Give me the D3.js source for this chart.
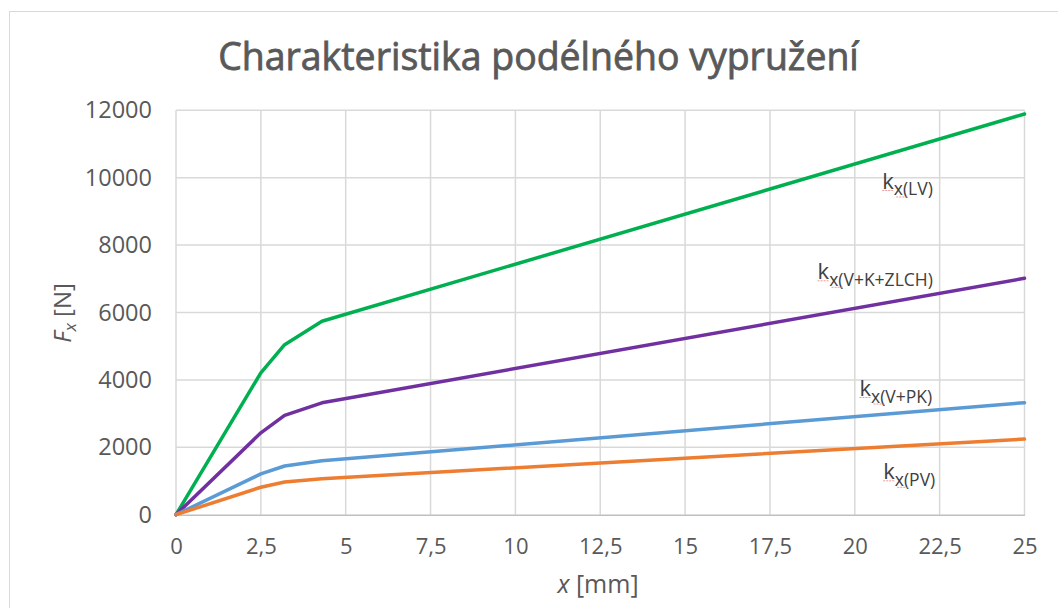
<!DOCTYPE html>
<html><head><meta charset="utf-8">
<script src="https://cdn.jsdelivr.net/npm/d3@7"></script>
<style>
html,body{margin:0;padding:0;background:#fff;}
svg{display:block;font-family:"Open Sans",sans-serif;}
</style></head>
<body>
<svg id="chart" width="1058" height="608"></svg>
<script>
// ---- data ----
const title = "Charakteristika podélného vypružení";
const xValues = [0, 2.5, 3.2, 4.3, 25];
const kLV   = [0, 4210, 5045, 5740, 11890];
const kVKZ  = [0, 2430, 2950, 3320, 7015];
const kVPK  = [0, 1210, 1445, 1600, 3325];
const kPV   = [0, 815, 970, 1070, 2245];
const seriesNames = ["x(LV)", "x(V+K+ZLCH)", "x(V+PK)", "x(PV)"];
const xTicks = [0, 2.5, 5, 7.5, 10, 12.5, 15, 17.5, 20, 22.5, 25];
const yTicks = [0, 2000, 4000, 6000, 8000, 10000, 12000];
// label anchor points in data units (mm, N)
const labelX = [22.3, 22.3, 22.28, 22.37];
const labelY = [9665, 6985, 3522, 1050];

const colors = ["#00b050", "#7030a0", "#5b9bd5", "#ed7d31"];
const seriesVals = [kLV, kVKZ, kVPK, kPV];

const svg = d3.select("#chart");
const x = d3.scaleLinear().domain([0, 25]).range([176, 1024.5]);
const y = d3.scaleLinear().domain([0, 12000]).range([514.7, 110.3]);

// frame
svg.append("rect").attr("x", 9.5).attr("y", 11.5).attr("width", 1200).attr("height", 800)
  .attr("fill", "#fff").attr("stroke", "#d9d9d9").attr("stroke-width", 1);

// title
const tt = svg.append("text").attr("x", 538.5).attr("y", 70).attr("text-anchor", "middle")
  .attr("font-size", 36).attr("fill", "#595959")
  .attr("stroke", "#595959").attr("stroke-width", 0.8).text(title);
// fit width to reference
const tw = tt.node().getComputedTextLength();
if (tw > 0) tt.attr("font-size", 36 * 641 / tw);

// gridlines
const grid = svg.append("g");
grid.selectAll("line.h").data(yTicks.filter(d => d > 0)).join("line")
  .attr("x1", x(0)).attr("x2", x(25)).attr("y1", d => y(d)).attr("y2", d => y(d))
  .attr("stroke", "#d9d9d9").attr("stroke-width", 1.5);
grid.selectAll("line.v").data(xTicks).join("line")
  .attr("x1", d => x(d)).attr("x2", d => x(d)).attr("y1", y(0)).attr("y2", y(12000))
  .attr("stroke", "#d9d9d9").attr("stroke-width", 1.5);

// x axis
const fmtX = d => String(d).replace(".", ",");
const xAxis = svg.append("g").attr("transform", `translate(0,${y(0)})`)
  .call(d3.axisBottom(x).tickValues(xTicks).tickFormat(fmtX).tickSize(0).tickPadding(24));
xAxis.select(".domain").attr("stroke", "#bfbfbf").attr("stroke-width", 1.5);
xAxis.selectAll("text").attr("font-size", 22).attr("fill", "#595959")
  .attr("font-family", "'Open Sans',sans-serif");

// y axis
const yAxis = svg.append("g").attr("transform", `translate(152,0)`)
  .call(d3.axisLeft(y).tickValues(yTicks).tickFormat(d3.format("d")).tickSize(0).tickPadding(0));
yAxis.select(".domain").remove();
yAxis.selectAll("text").attr("font-size", 23.5).attr("fill", "#595959")
  .attr("font-family", "'Open Sans',sans-serif");

// lines
const line = d3.line().x((d, i) => x(xValues[i])).y(d => y(d));
svg.append("g").selectAll("path").data(seriesVals).join("path")
  .attr("d", d => line(d)).attr("fill", "none")
  .attr("stroke", (d, i) => colors[i]).attr("stroke-width", 3.5)
  .attr("stroke-linejoin", "round").attr("stroke-linecap", "round");

// series labels
const lab = svg.append("g").selectAll("g").data(seriesNames).join("g");
lab.each(function(name, i) {
  const g = d3.select(this);
  const t = g.append("text").attr("x", x(labelX[i])).attr("y", y(labelY[i]))
    .attr("text-anchor", "end").attr("fill", "#404040");
  t.append("tspan").attr("font-size", 22).text("k");
  t.append("tspan").attr("font-size", 17.5).attr("dy", 6.5).text(name);
  // spell-check squiggles under "k" and "x"
  const bb = t.node().getBBox();
  const x0 = bb.x;
  g.append("line").attr("x1", x0).attr("x2", x0 + 12).attr("y1", y(labelY[i]) + 1.5).attr("y2", y(labelY[i]) + 1.5)
    .attr("stroke", "#f08080").attr("stroke-width", 1).attr("stroke-dasharray", "2,1").attr("opacity", 0.8);
  g.append("line").attr("x1", x0 + 14).attr("x2", x0 + 25).attr("y1", y(labelY[i]) + 8).attr("y2", y(labelY[i]) + 8)
    .attr("stroke", "#f08080").attr("stroke-width", 1).attr("stroke-dasharray", "2,1").attr("opacity", 0.8);
});

// axis titles
const yl = svg.append("text").attr("transform", "translate(71,313) rotate(-90)")
  .attr("text-anchor", "middle").attr("font-size", 24).attr("fill", "#595959");
yl.append("tspan").attr("font-style", "italic").text("F");
yl.append("tspan").attr("font-style", "italic").attr("font-size", 17).attr("dy", 5).text("x");
yl.append("tspan").attr("dy", -5).text(" [N]");

const xl = svg.append("text").attr("x", 598).attr("y", 593)
  .attr("text-anchor", "middle").attr("font-size", 25).attr("fill", "#595959");
xl.append("tspan").attr("font-style", "italic").text("x");
xl.append("tspan").text(" [mm]");
</script>
</body></html>
